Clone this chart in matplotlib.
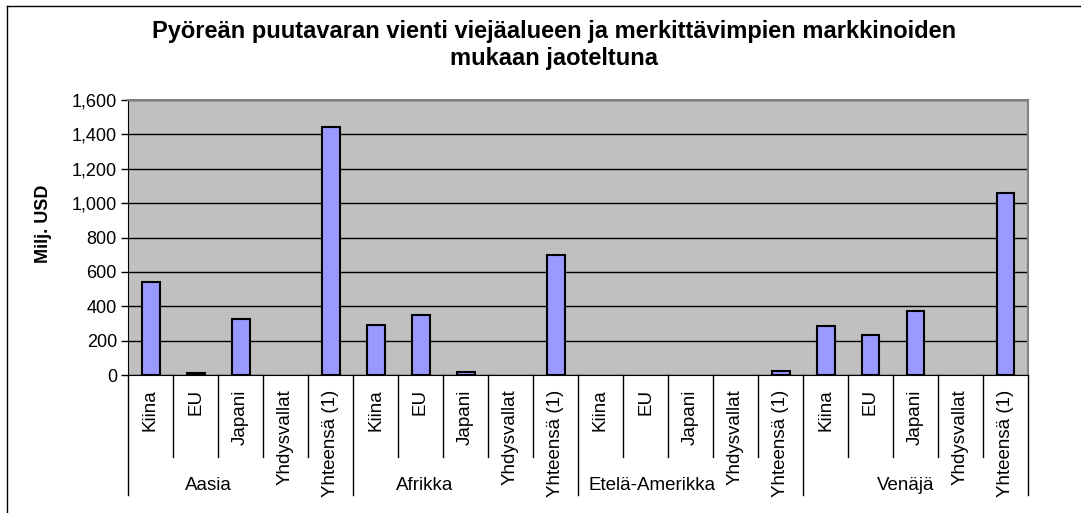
import matplotlib
matplotlib.use("Agg")
import matplotlib.pyplot as plt
from matplotlib.lines import Line2D

plt.rcParams['font.family'] = ['Liberation Sans', 'DejaVu Sans']

# regions and the markets inside each one
groups = ["Aasia", "Afrikka", "Etelä-Amerikka", "Venäjä"]
markets = ["Kiina", "EU", "Japani", "Yhdysvallat", "Yhteensä (1)"]

# export values, milj. USD
aasia = [539, 12, 326, 0, 1443]
afrikka = [291, 349, 15, 0, 701]
etela_amerikka = [0, 0, 0, 0, 23]
venaja = [286, 230, 374, 0, 1060]

values = aasia + afrikka + etela_amerikka + venaja
labels = markets * len(groups)

# where Excel put each region label (category units from the group start)
group_label_offset = [1.29, 1.1, 1.14, 1.79]

fig = plt.figure(figsize=(10.81, 5.13), dpi=100)
ax = fig.add_axes([128 / 1081, 1 - 375 / 513, 900 / 1081, 275 / 513])

# Excel leaves empty cells out, so no outline for zero bars
x = [i for i, v in enumerate(values) if v > 0]
h = [v for v in values if v > 0]
ax.bar(x, h, width=0.4, color="#9999FF", edgecolor="black", linewidth=1.5, zorder=3)

ax.set_facecolor("#C0C0C0")
ax.set_xlim(-0.5, len(values) - 0.5)
ax.set_ylim(0, 1600)
ax.set_yticks(range(0, 1601, 200))
ax.set_yticklabels([f"{v:,}" for v in range(0, 1601, 200)], fontsize=13)
ax.tick_params(axis="y", direction="out", length=5, width=1, color="black", pad=3)
ax.set_xticks([])
ax.grid(axis="y", color="black", linewidth=1, zorder=1)

for side in ["top", "right"]:
    ax.spines[side].set_color("#808080")
    ax.spines[side].set_linewidth(1.5)
ax.spines["left"].set_color("black")
ax.spines["bottom"].set_color("black")
ax.spines["bottom"].set_zorder(4)

tr = ax.get_xaxis_transform()

# category labels and separators
for i, lab in enumerate(labels):
    ax.text(i, -0.052, lab, rotation=90, ha="center", va="top", fontsize=13.5, transform=tr)

n = len(markets)
for b in range(len(values) + 1):
    depth = -0.435 if b % n == 0 else -0.298
    ax.add_line(Line2D([b - 0.5, b - 0.5], [0, depth], transform=tr, color="black",
                       linewidth=1, clip_on=False))

for g, name in enumerate(groups):
    ax.text(g * n + group_label_offset[g], -0.4, name, ha="center", va="center",
            fontsize=13.5, transform=tr)

fig.text(43 / 1081, 1 - 224 / 513, "Milj. USD", rotation=90, ha="center", va="center",
         fontsize=13, fontweight="bold")

fig.text(554 / 1081, 1 - 20 / 513,
         "Pyöreän puutavaran vienti viejäalueen ja merkittävimpien markkinoiden\nmukaan jaoteltuna",
         ha="center", va="top", fontsize=17, fontweight="bold", linespacing=1.2)

# chart frame
fig.add_artist(Line2D([7 / 1081, 7 / 1081], [0, 1 - 6 / 513], color="black", linewidth=1))
fig.add_artist(Line2D([7 / 1081, 1], [1 - 6 / 513, 1 - 6 / 513], color="black", linewidth=1))

fig.savefig("out.png", dpi=100)
